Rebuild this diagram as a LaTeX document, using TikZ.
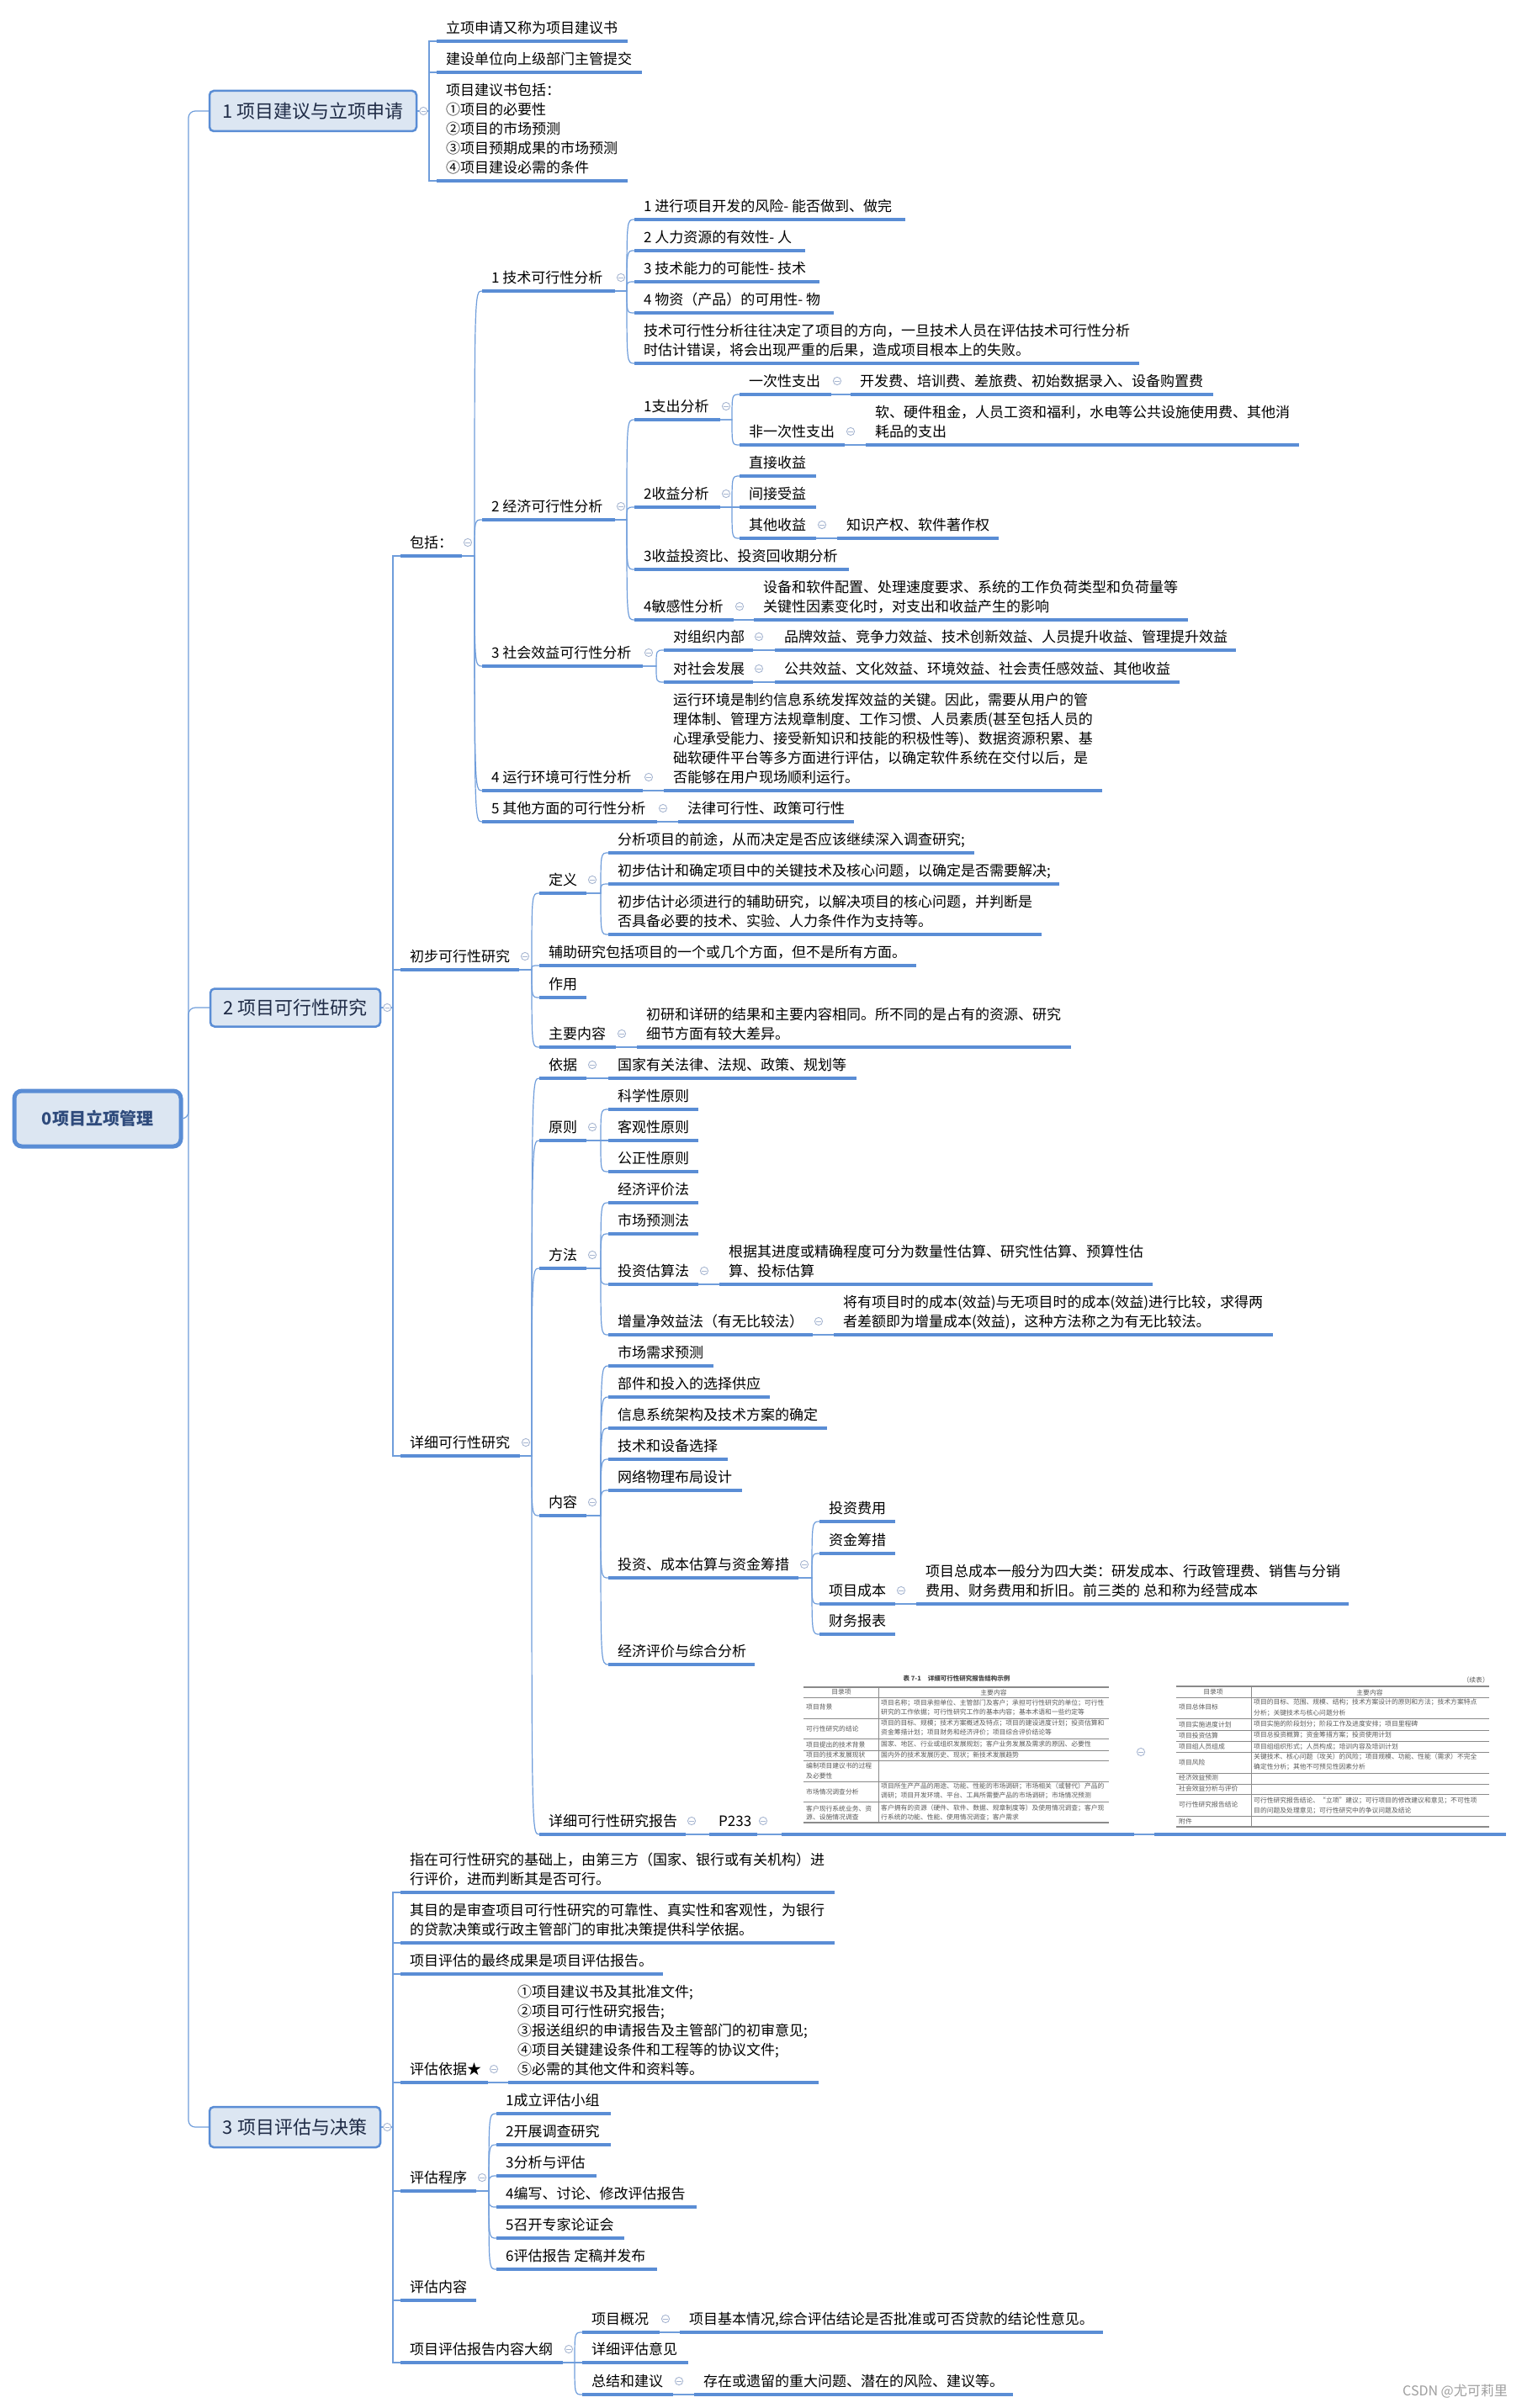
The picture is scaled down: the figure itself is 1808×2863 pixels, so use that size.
\documentclass[tikz,border=0pt]{standalone}
\usepackage{fontspec}
\setmainfont{Noto Sans CJK SC}
\usetikzlibrary{calc}
\definecolor{ul}{HTML}{5A8DD5}
\definecolor{cn}{HTML}{6F9DDB}
\definecolor{mkc}{HTML}{A7B6D1}
\definecolor{boxfill}{HTML}{DCE6F2}
\definecolor{boxtext}{HTML}{1F2B46}
\definecolor{roottext}{HTML}{2F4B7C}
\definecolor{tbl}{HTML}{5A5A5A}
\definecolor{tblrule}{HTML}{8A8A8A}
\tikzset{
  tp/.style={anchor=south west, inner sep=0pt, align=left, font=\fontsize{17}{23}\selectfont, text=black},
  uline/.style={draw=ul, line width=3.6pt},
  conn/.style={draw=cn, line width=1.2pt},
  mainbox/.style={draw=ul, line width=2.5pt, fill=boxfill, rounded corners=5pt, font=\fontsize{22}{26}\selectfont, text=boxtext, inner sep=0pt},
  rootbox/.style={draw=ul, line width=5pt, fill=boxfill, rounded corners=9pt, font=\fontsize{20}{24}\selectfont\bfseries, text=roottext, inner sep=0pt},
  fold/.pic={\draw[draw=mkc, fill=white, line width=0.9pt] (0,0) circle (4.6pt); \draw[draw=mkc, line width=0.9pt] (-2.6pt,0) -- (2.6pt,0);},
  tbltext/.style={font=\fontsize{7.8}{9}\selectfont, text=tbl, inner sep=0pt},
  tbltitle/.style={font=\fontsize{7.5}{9}\selectfont\bfseries, text=tbl!80!black, inner sep=0pt},
  tblthick/.style={draw=tblrule, line width=1.3pt},
  tblthin/.style={draw=tblrule, line width=0.6pt},
  imgbox/.style={inner sep=0pt},
}
\newcommand\ulseg[4]{%
  \coordinate (#1-l) at (#2,#4);
  \coordinate (#1-r) at (#3,#4);
  \coordinate (#1-s) at (#2-9,#4);
  \draw[uline] (#1-l) -- (#1-r);}
\newcommand\topic[5]{\ulseg{#1}{#2}{#3}{#4}\node[tp] (#1) at (#2+11,#4-5) {#5\rule[-4pt]{0pt}{4pt}};}
\newcommand\lnk[2]{\draw[conn] (#1-r) -- (#1-r -| #2-s) .. controls (#2-s) .. (#2-l);}
\newcommand\blnk[2]{\draw[conn] (#1.east) -- (#1.east -| #2-s) -- (#2-s) -- (#2-l);}
\newcommand\mk[1]{\pic at ($(#1-r)+(7,-16)$) {fold};}
\newcommand\bmk[1]{\pic at ($(#1.east)+(7,0)$) {fold};}
\newcommand\tl[3]{\node[tbltext, anchor=west] at (#1,#2) {#3};}
\begin{document}
\begin{tikzpicture}[x=1pt,y=-1pt]
\fill[white] (0,0) rectangle (1808,2863);
\useasboundingbox (0,0) rectangle (1808,2863);

% ---------- main boxes
\node[rootbox, minimum width=198pt, minimum height=66pt] (root) at (116,1330) {0项目立项管理};
\node[mainbox, minimum width=246pt, minimum height=48pt] (b1) at (372,132) {1 项目建议与立项申请};
\node[mainbox, minimum width=202pt, minimum height=45pt] (b2) at (351,1198) {2 项目可行性研究};
\node[mainbox, minimum width=203pt, minimum height=48pt] (b3) at (350.5,2529) {3 项目评估与决策};
\coordinate (sp) at (224,1330);

% ---------- section 1
\topic{a1}{519}{746}{49}{立项申请又称为项目建议书}
\topic{a2}{519}{763}{86}{建设单位向上级部门主管提交}
\topic{a3}{519}{746}{215}{项目建议书包括：\\①项目的必要性\\②项目的市场预测\\③项目预期成果的市场预测\\④项目建设必需的条件}

% ---------- section 2
\topic{s2a}{476}{549}{661}{包括：}
\topic{s2b}{476}{617}{1153}{初步可行性研究}
\topic{s2c}{476}{618}{1731}{详细可行性研究}
\topic{t1}{573}{731}{346}{1 技术可行性分析}
\topic{t2}{573}{731}{618}{2 经济可行性分析}
\topic{t3}{573}{764}{792}{3 社会效益可行性分析}
\topic{t4}{573}{764}{940}{4 运行环境可行性分析}
\topic{t5}{573}{781}{977}{5 其他方面的可行性分析}
\topic{t1a}{754}{1076}{261}{1 进行项目开发的风险- 能否做到、做完}
\topic{t1b}{754}{957}{298}{2 人力资源的有效性- 人}
\topic{t1c}{754}{974}{335}{3 技术能力的可能性- 技术}
\topic{t1d}{754}{991}{372}{4 物资（产品）的可用性- 物}
\topic{t1e}{754}{1354}{432}{技术可行性分析往往决定了项目的方向，一旦技术人员在评估技术可行性分析\\时估计错误，将会出现严重的后果，造成项目根本上的失败。}
\topic{e1}{754}{856}{499}{1支出分析}
\topic{e1a}{879}{988}{469}{一次性支出}
\topic{e1a1}{1011}{1442}{469}{开发费、培训费、差旅费、初始数据录入、设备购置费}
\topic{e1b}{879}{1004}{529}{非一次性支出}
\topic{e1b1}{1029}{1544}{529}{软、硬件租金，人员工资和福利，水电等公共设施使用费、其他消\\耗品的支出}
\topic{e2}{754}{856}{603}{2收益分析}
\topic{e2a}{879}{970}{566}{直接收益}
\topic{e2b}{879}{970}{603}{间接受益}
\topic{e2c}{879}{970}{640}{其他收益}
\topic{e2c1}{995}{1187}{640}{知识产权、软件著作权}
\topic{e3}{754}{1009}{677}{3收益投资比、投资回收期分析}
\topic{e4}{754}{872}{737}{4敏感性分析}
\topic{e4a}{896}{1412}{737}{设备和软件配置、处理速度要求、系统的工作负荷类型和负荷量等\\关键性因素变化时，对支出和收益产生的影响}
\topic{s3a}{789}{895}{773}{对组织内部}
\topic{s3a1}{921}{1469}{773}{品牌效益、竞争力效益、技术创新效益、人员提升收益、管理提升效益}
\topic{s3b}{789}{895}{811}{对社会发展}
\topic{s3b1}{921}{1402}{811}{公共效益、文化效益、环境效益、社会责任感效益、其他收益}
\topic{s4a}{789}{1310}{940}{运行环境是制约信息系统发挥效益的关键。因此，需要从用户的管\\理体制、管理方法规章制度、工作习惯、人员素质(甚至包括人员的\\心理承受能力、接受新知识和技能的积极性等)、数据资源积累、基\\础软硬件平台等多方面进行评估，以确定软件系统在交付以后，是\\否能够在用户现场顺利运行。}
\topic{s5a}{806}{1015}{977}{法律可行性、政策可行性}

\topic{p1}{641}{697}{1062}{定义}
\topic{p1a}{723}{1158}{1014}{分析项目的前途，从而决定是否应该继续深入调查研究;}
\topic{p1b}{723}{1259}{1051}{初步估计和确定项目中的关键技术及核心问题，以确定是否需要解决;}
\topic{p1c}{723}{1238}{1111}{初步估计必须进行的辅助研究，以解决项目的核心问题，并判断是\\否具备必要的技术、实验、人力条件作为支持等。}
\topic{p2}{641}{1089}{1148}{辅助研究包括项目的一个或几个方面，但不是所有方面。}
\topic{p3}{641}{697}{1186}{作用}
\topic{p4}{641}{732}{1245}{主要内容}
\topic{p4a}{757}{1273}{1245}{初研和详研的结果和主要内容相同。所不同的是占有的资源、研究\\细节方面有较大差异。}

\topic{d1}{641}{697}{1282}{依据}
\topic{d1a}{723}{1018}{1282}{国家有关法律、法规、政策、规划等}
\topic{d2}{641}{697}{1356}{原则}
\topic{d2a}{723}{830}{1319}{科学性原则}
\topic{d2b}{723}{830}{1356}{客观性原则}
\topic{d2c}{723}{830}{1393}{公正性原则}
\topic{d3}{641}{697}{1508}{方法}
\topic{d3a}{723}{830}{1430}{经济评价法}
\topic{d3b}{723}{830}{1467}{市场预测法}
\topic{d3c}{723}{830}{1527}{投资估算法}
\topic{d3c1}{855}{1370}{1527}{根据其进度或精确程度可分为数量性估算、研究性估算、预算性估\\算、投标估算}
\topic{d3d}{723}{966}{1587}{增量净效益法（有无比较法）}
\topic{d3d1}{991}{1513}{1587}{将有项目时的成本(效益)与无项目时的成本(效益)进行比较，求得两\\者差额即为增量成本(效益)，这种方法称之为有无比较法。}
\topic{d4}{641}{697}{1802}{内容}
\topic{d4a}{723}{848}{1624}{市场需求预测}
\topic{d4b}{723}{915}{1661}{部件和投入的选择供应}
\topic{d4c}{723}{983}{1698}{信息系统架构及技术方案的确定}
\topic{d4d}{723}{865}{1735}{技术和设备选择}
\topic{d4e}{723}{882}{1772}{网络物理布局设计}
\topic{d4f}{723}{949}{1876}{投资、成本估算与资金筹措}
\topic{d4f1}{974}{1064}{1809}{投资费用}
\topic{d4f2}{974}{1064}{1847}{资金筹措}
\topic{d4f3}{974}{1064}{1907}{项目成本}
\topic{d4f3a}{1089}{1603}{1907}{项目总成本一般分为四大类：研发成本、行政管理费、销售与分销\\费用、财务费用和折旧。前三类的 总和称为经营成本}
\topic{d4f4}{974}{1064}{1943}{财务报表}
\topic{d4g}{723}{897}{1979}{经济评价与综合分析}
\topic{d5}{641}{815}{2181}{详细可行性研究报告}
\topic{d5a}{843}{900}{2181}{P233}
\ulseg{d5b}{929}{1348}{2181}
\ulseg{d5c}{1372}{1790}{2181}

% ---------- section 3
\topic{r1}{476}{992}{2250}{指在可行性研究的基础上，由第三方（国家、银行或有关机构）进\\行评价，进而判断其是否可行。}
\topic{r2}{476}{992}{2310}{其目的是审查项目可行性研究的可靠性、真实性和客观性，为银行\\的贷款决策或行政主管部门的审批决策提供科学依据。}
\topic{r3}{476}{788}{2347}{项目评估的最终成果是项目评估报告。}
\topic{r4}{476}{580}{2476}{评估依据★}
\topic{r4a}{604}{973}{2476}{①项目建议书及其批准文件;\\②项目可行性研究报告;\\③报送组织的申请报告及主管部门的初审意见;\\④项目关键建设条件和工程等的协议文件;\\⑤必需的其他文件和资料等。}
\topic{r5}{476}{566}{2605}{评估程序}
\topic{r5a}{590}{726}{2513}{1成立评估小组}
\topic{r5b}{590}{726}{2550}{2开展调查研究}
\topic{r5c}{590}{709}{2587}{3分析与评估}
\topic{r5d}{590}{828}{2624}{4编写、讨论、修改评估报告}
\topic{r5e}{590}{742}{2661}{5召开专家论证会}
\topic{r5f}{590}{781}{2698}{6评估报告 定稿并发布}
\topic{r6}{476}{566}{2735}{评估内容}
\topic{r7}{476}{669}{2809}{项目评估报告内容大纲}
\topic{r7a}{692}{784}{2773}{项目概况}
\topic{r7a1}{808}{1311}{2773}{项目基本情况,综合评估结论是否批准或可否贷款的结论性意见。}
\topic{r7b}{692}{818}{2809}{详细评估意见}
\topic{r7c}{692}{800}{2847}{总结和建议}
\topic{r7c1}{825}{1204}{2847}{存在或遗留的重大问题、潜在的风险、建议等。}

% ---------- connectors
\draw[conn, rounded corners=8pt] (root.east) -- (sp) |- (b1.west);
\draw[conn, rounded corners=8pt] (sp) |- (b2.west);
\draw[conn, rounded corners=8pt] (sp) |- (b3.west);
\blnk{b1}{a1}\blnk{b1}{a2}\blnk{b1}{a3}
\blnk{b2}{s2a}\blnk{b2}{s2b}\blnk{b2}{s2c}
\blnk{b3}{r1}\blnk{b3}{r2}\blnk{b3}{r3}\blnk{b3}{r4}\blnk{b3}{r5}\blnk{b3}{r6}\blnk{b3}{r7}
\lnk{s2a}{t1}\lnk{s2a}{t2}\lnk{s2a}{t3}\lnk{s2a}{t4}\lnk{s2a}{t5}
\lnk{t1}{t1a}\lnk{t1}{t1b}\lnk{t1}{t1c}\lnk{t1}{t1d}\lnk{t1}{t1e}
\lnk{t2}{e1}\lnk{t2}{e2}\lnk{t2}{e3}\lnk{t2}{e4}
\lnk{e1}{e1a}\lnk{e1}{e1b}\lnk{e1a}{e1a1}\lnk{e1b}{e1b1}
\lnk{e2}{e2a}\lnk{e2}{e2b}\lnk{e2}{e2c}\lnk{e2c}{e2c1}
\lnk{e4}{e4a}
\lnk{t3}{s3a}\lnk{t3}{s3b}\lnk{s3a}{s3a1}\lnk{s3b}{s3b1}
\lnk{t4}{s4a}\lnk{t5}{s5a}
\lnk{s2b}{p1}\lnk{s2b}{p2}\lnk{s2b}{p3}\lnk{s2b}{p4}
\lnk{p1}{p1a}\lnk{p1}{p1b}\lnk{p1}{p1c}\lnk{p4}{p4a}
\lnk{s2c}{d1}\lnk{s2c}{d2}\lnk{s2c}{d3}\lnk{s2c}{d4}\lnk{s2c}{d5}
\lnk{d1}{d1a}
\lnk{d2}{d2a}\lnk{d2}{d2b}\lnk{d2}{d2c}
\lnk{d3}{d3a}\lnk{d3}{d3b}\lnk{d3}{d3c}\lnk{d3}{d3d}\lnk{d3c}{d3c1}\lnk{d3d}{d3d1}
\lnk{d4}{d4a}\lnk{d4}{d4b}\lnk{d4}{d4c}\lnk{d4}{d4d}\lnk{d4}{d4e}\lnk{d4}{d4f}\lnk{d4}{d4g}
\lnk{d4f}{d4f1}\lnk{d4f}{d4f2}\lnk{d4f}{d4f3}\lnk{d4f}{d4f4}\lnk{d4f3}{d4f3a}
\lnk{d5}{d5a}\lnk{d5a}{d5b}\lnk{d5b}{d5c}
\lnk{r4}{r4a}
\lnk{r5}{r5a}\lnk{r5}{r5b}\lnk{r5}{r5c}\lnk{r5}{r5d}\lnk{r5}{r5e}\lnk{r5}{r5f}
\lnk{r7}{r7a}\lnk{r7}{r7b}\lnk{r7}{r7c}\lnk{r7a}{r7a1}\lnk{r7c}{r7c1}

% ---------- fold markers
\bmk{b1}\bmk{b2}\bmk{b3}
\mk{s2a}\mk{s2b}\mk{s2c}
\mk{t1}\mk{t2}\mk{t3}\mk{t4}\mk{t5}
\mk{e1}\mk{e1a}\mk{e1b}\mk{e2}\mk{e2c}\mk{e4}\mk{s3a}\mk{s3b}
\mk{p1}\mk{p4}
\mk{d1}\mk{d2}\mk{d3}\mk{d3c}\mk{d3d}\mk{d4}\mk{d4f}\mk{d4f3}\mk{d5}\mk{d5a}
\mk{r4}\mk{r5}\mk{r7}\mk{r7a}\mk{r7c}
\pic at (1356,2083) {fold};

% ---------- image 1 : table 7-1
\node[imgbox, minimum width=375pt, minimum height=185pt] (img1) at (1137,2083) {};
\node[tbltitle] (img1t) at (1137,1996) {表 7-1\hspace{8pt}详细可行性研究报告结构示例};
\draw[tblthick] (955,2006) -- (1318,2006);
\draw[tblthick] (955,2167) -- (1318,2167);
\foreach \yy in {2018,2043,2067,2081,2093,2118,2142} {\draw[tblthin] (955,\yy) -- (1318,\yy);}
\draw[tblthin] (1044,2006) -- (1044,2167);
\node[tbltext] at (1000,2012) {目录项};
\node[tbltext] at (1181,2012) {主要内容};
\tl{958}{2030}{项目背景}
\tl{1047}{2025}{项目名称；项目承担单位、主管部门及客户；承担可行性研究的单位；可行性}
\tl{1047}{2036}{研究的工作依据；可行性研究工作的基本内容；基本术语和一些约定等}
\tl{958}{2055}{可行性研究的结论}
\tl{1047}{2049}{项目的目标、规模；技术方案概述及特点；项目的建设进度计划；投资估算和}
\tl{1047}{2060}{资金筹措计划；项目财务和经济评价；项目综合评价结论等}
\tl{958}{2074}{项目提出的技术背景}
\tl{1047}{2074}{国家、地区、行业或组织发展规划；客户业务发展及需求的原因、必要性}
\tl{958}{2087}{项目的技术发展现状}
\tl{1047}{2087}{国内外的技术发展历史、现状；新技术发展趋势}
\tl{958}{2100}{编制项目建议书的过程}
\tl{958}{2112}{及必要性}
\tl{958}{2130}{市场情况调查分析}
\tl{1047}{2124}{项目所生产产品的用途、功能、性能的市场调研；市场相关（或替代）产品的}
\tl{1047}{2135}{调研；项目开发环境、平台、工具所需要产品的市场调研；市场情况预测}
\tl{958}{2150}{客户现行系统业务、资}
\tl{958}{2161}{源、设施情况调查}
\tl{1047}{2150}{客户拥有的资源（硬件、软件、数据、规章制度等）及使用情况调查；客户现}
\tl{1047}{2161}{行系统的功能、性能、使用情况调查；客户需求}

% ---------- image 2 : continued table
\node[imgbox, minimum width=380pt, minimum height=185pt] (img2) at (1584,2086) {};
\node[tbltext, anchor=east] (img2t) at (1770,1998) {（续表）};
\draw[tblthick] (1398,2005) -- (1770,2005);
\draw[tblthick] (1398,2172) -- (1770,2172);
\foreach \yy in {2018,2043,2057,2070,2083,2108,2121,2133,2159} {\draw[tblthin] (1398,\yy) -- (1770,\yy);}
\draw[tblthin] (1487,2005) -- (1487,2172);
\node[tbltext] at (1442,2012) {目录项};
\node[tbltext] at (1628,2012) {主要内容};
\tl{1401}{2030}{项目总体目标}
\tl{1490}{2024}{项目的目标、范围、规模、结构；技术方案设计的原则和方法；技术方案特点}
\tl{1490}{2037}{分析；关键技术与核心问题分析}
\tl{1401}{2050}{项目实施进度计划}
\tl{1490}{2050}{项目实施的阶段划分；阶段工作及进度安排；项目里程碑}
\tl{1401}{2063}{项目投资估算}
\tl{1490}{2063}{项目总投资概算；资金筹措方案；投资使用计划}
\tl{1401}{2077}{项目组人员组成}
\tl{1490}{2077}{项目组组织形式；人员构成；培训内容及培训计划}
\tl{1401}{2095}{项目风险}
\tl{1490}{2089}{关键技术、核心问题（攻关）的风险；项目规模、功能、性能（需求）不完全}
\tl{1490}{2101}{确定性分析；其他不可预见性因素分析}
\tl{1401}{2114}{经济效益预测}
\tl{1401}{2127}{社会效益分析与评价}
\tl{1401}{2146}{可行性研究报告结论}
\tl{1490}{2141}{可行性研究报告结论、“立项”建议；可行项目的修改建议和意见；不可性项}
\tl{1490}{2153}{目的问题及处理意见；可行性研究中的争议问题及结论}
\tl{1401}{2166}{附件}

% ---------- watermark
\node[anchor=east, inner sep=0pt, font=\fontsize{16}{16}\selectfont, text=black!38] (wm) at (1792,2843) {CSDN @尤可莉里};
\end{tikzpicture}
\end{document}
